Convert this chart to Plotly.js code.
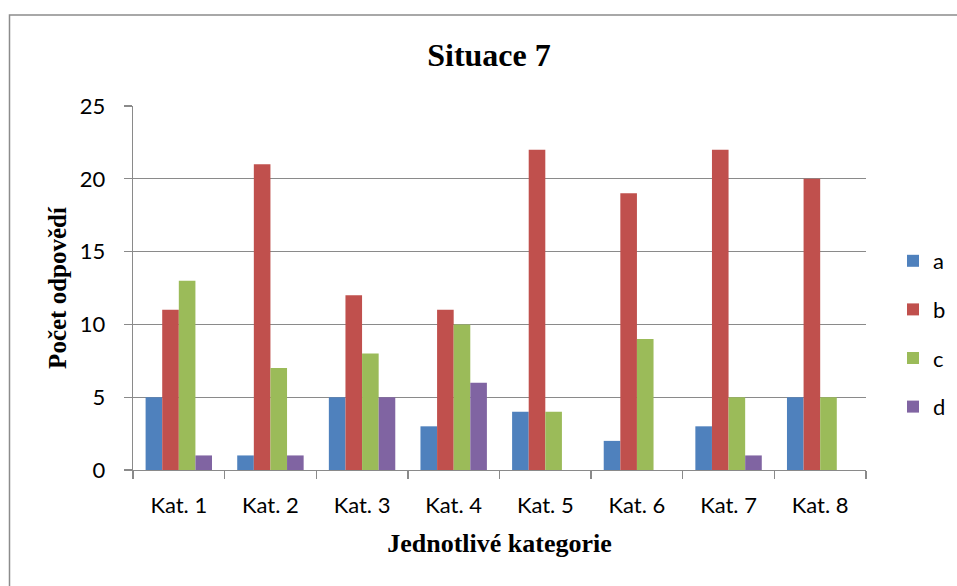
<!DOCTYPE html>
<html>
<head>
<meta charset="utf-8">
<script src="https://cdn.plot.ly/plotly-3.0.1.min.js"></script>
<style>
  html, body { margin: 0; padding: 0; background: #fff; }
  #chart { width: 957px; height: 586px; }
</style>
</head>
<body>
<div id="chart"></div>
<script>
// Počty odpovědí pro situaci 7 podle kategorií
const categories = ["Kat. 1", "Kat. 2", "Kat. 3", "Kat. 4", "Kat. 5", "Kat. 6", "Kat. 7", "Kat. 8"];
const seriesNames = ["a", "b", "c", "d"];
const valuesA = [5, 1, 5, 3, 4, 2, 3, 5];
const valuesB = [11, 21, 12, 11, 22, 19, 22, 20];
const valuesC = [13, 7, 8, 10, 4, 9, 5, 5];
const valuesD = [1, 1, 5, 6, 0, 0, 1, 0];
const yTicks = [0, 5, 10, 15, 20, 25];

const colors = ["#4F81BD", "#C0504D", "#9BBB59", "#8064A2"];
const allValues = [valuesA, valuesB, valuesC, valuesD];

const traces = allValues.map((vals, i) => ({
  type: "bar",
  name: seriesNames[i],
  legendgroup: seriesNames[i],
  x: categories,
  y: vals,
  marker: { color: colors[i], line: { width: 0 } },
  hoverinfo: "x+y+name"
}));

// plot area in pixels
const W = 957, H = 586;
const margin = { l: 133, r: 91, t: 106, b: 116 };
const pw = W - margin.l - margin.r;
const ph = H - margin.t - margin.b;
const px = v => (v - margin.l) / pw;
const py = v => (H - margin.b - v) / ph;

const grid = "#8a8a8a";
const tickFont = { family: "Lato, 'Open Sans', sans-serif", size: 22, color: "#000" };
const serif = "'Liberation Serif', 'Times New Roman', serif";

const layout = {
  width: W,
  height: H,
  margin: margin,
  paper_bgcolor: "#fff",
  plot_bgcolor: "#fff",
  bargap: 0.275,
  bargroupgap: 0,
  barmode: "group",
  showlegend: true,
  title: {
    text: "<b>Situace 7</b>",
    font: { family: serif, size: 32, color: "#000" },
    x: 489 / W,
    xref: "container",
    xanchor: "center",
    y: 1 - 55 / H,
    yref: "container",
    yanchor: "middle"
  },
  xaxis: {
    type: "category",
    tickson: "boundaries",
    ticks: "outside",
    ticklen: 8,
    tickwidth: 1.3,
    tickcolor: grid,
    showline: true,
    linecolor: grid,
    linewidth: 1.3,
    showgrid: false,
    tickfont: tickFont,
    ticklabelstandoff: 15,
    title: {
      text: "<b>Jednotlivé kategorie</b>",
      font: { family: serif, size: 26, color: "#000" },
      standoff: 17
    },
    fixedrange: true
  },
  yaxis: {
    range: [0, 25],
    tickvals: yTicks,
    ticks: "outside",
    ticklen: 8,
    tickwidth: 1.3,
    tickcolor: grid,
    showline: true,
    linecolor: grid,
    linewidth: 1.3,
    showgrid: true,
    gridcolor: grid,
    gridwidth: 1.3,
    zeroline: false,
    tickfont: tickFont,
    ticklabelstandoff: 14,
    title: {
      text: "<b>Počet odpovědí</b>",
      font: { family: serif, size: 25, color: "#000" },
      standoff: 6
    },
    fixedrange: true
  },
  legend: {
    x: 893 / W,
    xref: "container",
    xanchor: "left",
    y: 1 - 334 / H,
    yref: "container",
    yanchor: "middle",
    font: { family: "Lato, 'Open Sans', sans-serif", size: 22, color: "#000" },
    tracegroupgap: 17,
    bgcolor: "rgba(0,0,0,0)",
    itemclick: false,
    itemdoubleclick: false
  },
  shapes: [{
    type: "rect",
    xref: "paper", yref: "paper",
    x0: px(9.5), x1: px(W + 20),
    y0: py(H + 20), y1: py(15),
    line: { color: "#8c8c8c", width: 1.5 },
    fillcolor: "rgba(0,0,0,0)",
    layer: "below"
  }]
};

Plotly.newPlot("chart", traces, layout, { displayModeBar: false, staticPlot: true });
</script>
</body>
</html>
